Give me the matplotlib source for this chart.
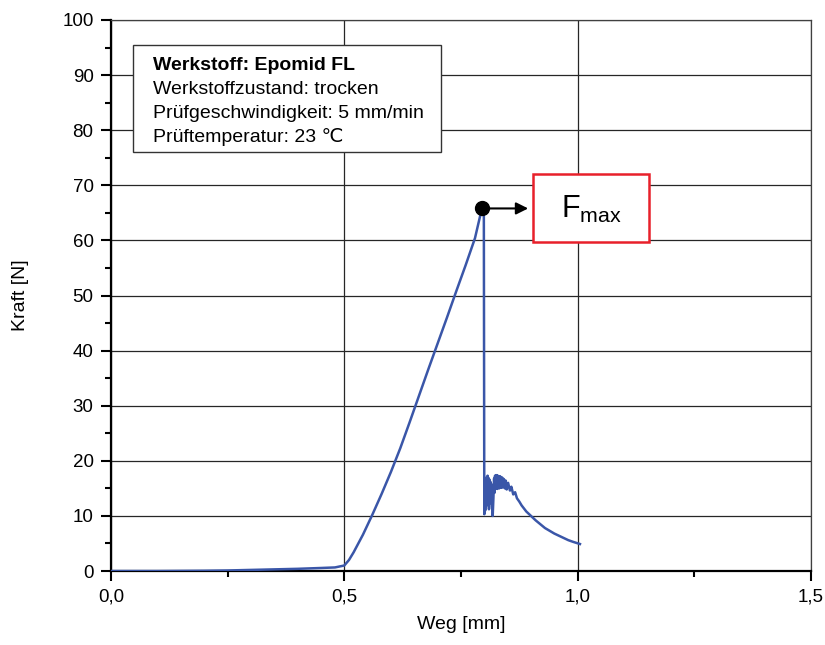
import matplotlib
matplotlib.use("Agg")
import matplotlib.pyplot as plt
from matplotlib.patches import Rectangle
from matplotlib.ticker import MultipleLocator, FuncFormatter

plt.rcParams['font.family'] = ['Liberation Sans', 'DejaVu Sans']
plt.rcParams['mathtext.fontset'] = 'custom'
plt.rcParams['mathtext.rm'] = 'Liberation Sans'

# Kraft-Weg curve
weg = [0.0, 0.1, 0.2, 0.25, 0.3, 0.35, 0.4, 0.45, 0.48, 0.50, 0.51, 0.52, 0.53,
       0.54, 0.55, 0.56, 0.58, 0.60, 0.62, 0.64, 0.66, 0.68, 0.70, 0.72,
       0.74, 0.76, 0.78, 0.794, 0.799,
       0.800, 0.801, 0.802, 0.803, 0.804, 0.805, 0.806, 0.807, 0.808, 0.809,
       0.810, 0.811, 0.812, 0.813, 0.814, 0.815, 0.8165, 0.818, 0.8195, 0.821,
       0.822, 0.823, 0.824, 0.825, 0.826, 0.827, 0.828, 0.829, 0.830, 0.831,
       0.832, 0.833, 0.834, 0.835, 0.836, 0.837, 0.838, 0.839, 0.840, 0.842,
       0.844, 0.846, 0.848, 0.851, 0.855, 0.858, 0.862, 0.866, 0.870, 0.875,
       0.880, 0.890, 0.900, 0.910, 0.920, 0.930, 0.940, 0.950, 0.960, 0.970,
       0.980, 0.990, 1.005]
kraft = [0.0, 0.0, 0.05, 0.1, 0.2, 0.3, 0.4, 0.55, 0.65, 1.0, 2.0, 3.4, 5.0,
         6.6, 8.4, 10.2, 14.0, 18.0, 22.3, 27.0, 31.8, 36.6, 41.3, 46.0,
         50.8, 55.5, 60.4, 65.5, 65.5,
         10.3, 14.5, 11.0, 16.8, 11.8, 17.0, 12.5, 17.3, 12.0, 16.9,
         11.2, 16.6, 12.3, 16.2, 12.8, 15.8, 11.8, 10.0, 13.2, 16.8,
         14.2, 17.3, 15.0, 17.4, 15.0, 17.4, 14.9, 17.3, 15.1, 17.2,
         15.0, 17.2, 15.2, 17.1, 15.1, 17.0, 15.2, 16.9, 15.2, 16.7,
         15.0, 16.4, 14.8, 16.0, 14.6, 15.3, 13.9, 14.3, 13.2, 12.6,
         11.9, 10.8, 10.0, 9.2, 8.5, 7.8, 7.3, 6.8, 6.4, 6.0,
         5.6, 5.3, 4.9]

fmax_weg = 0.795
fmax_kraft = 65.8

info_lines = ["Werkstoff: Epomid FL",
              "Werkstoffzustand: trocken",
              "Prüfgeschwindigkeit: 5 mm/min",
              "Prüftemperatur: 23 \u2103"]

fig = plt.figure(figsize=(8.25, 6.45), dpi=100)
ax = fig.add_axes([0.1345, 0.1147, 0.8485, 0.8543])

ax.plot(weg, kraft, color='#3a56a8', lw=1.8, zorder=3)

ax.set_xlim(0, 1.5)
ax.set_ylim(0, 100)
ax.xaxis.set_major_locator(MultipleLocator(0.5))
ax.xaxis.set_minor_locator(MultipleLocator(0.25))
ax.yaxis.set_major_locator(MultipleLocator(10))
ax.yaxis.set_minor_locator(MultipleLocator(5))
ax.xaxis.set_major_formatter(FuncFormatter(lambda v, p: f"{v:.1f}".replace('.', ',')))
ax.yaxis.set_major_formatter(FuncFormatter(lambda v, p: f"{v:.0f}"))

ax.grid(True, which='major', color='0.15', lw=0.9, zorder=0)
ax.set_axisbelow(True)

for s in ['left', 'bottom']:
    ax.spines[s].set_linewidth(1.6)
for s in ['top', 'right']:
    ax.spines[s].set_linewidth(0.9)
    ax.spines[s].set_color('0.25')

ax.tick_params(which='major', direction='out', length=7.5, width=1.5, labelsize=13.5, pad=5)
ax.tick_params(which='minor', direction='out', length=4, width=1.5)

ax.set_xlabel("Weg [mm]", fontsize=14, labelpad=8)
ax.set_ylabel("Kraft [N]", fontsize=14, labelpad=24)

# info box
ax.add_patch(Rectangle((0.0314, 0.760), 0.44, 0.1946, transform=ax.transAxes,
                       facecolor='white', edgecolor='0.2', lw=1.0, zorder=4))
for i, line in enumerate(info_lines):
    ax.text(0.06, 0.918 - i * 0.0436, line, transform=ax.transAxes, fontsize=14,
            va='center', ha='left', zorder=5,
            fontweight='bold' if i == 0 else 'normal')

# Fmax marker and label
ax.plot([fmax_weg], [fmax_kraft], 'o', color='black', ms=10, zorder=6)
ax.annotate("", xy=(0.894, fmax_kraft), xytext=(fmax_weg, fmax_kraft),
            arrowprops=dict(arrowstyle='-|>', color='black', lw=1.5,
                            mutation_scale=18, shrinkA=0, shrinkB=0), zorder=6)
ax.add_patch(Rectangle((0.603, 0.597), 0.166, 0.123, transform=ax.transAxes,
                       facecolor='white', edgecolor='#e8202a', lw=1.8, zorder=4))
ax.text(0.686, 0.656, r"F$_{\mathrm{max}}$", transform=ax.transAxes,
        fontsize=22, ha='center', va='center', zorder=5)

fig.savefig("out.png", dpi=100)
